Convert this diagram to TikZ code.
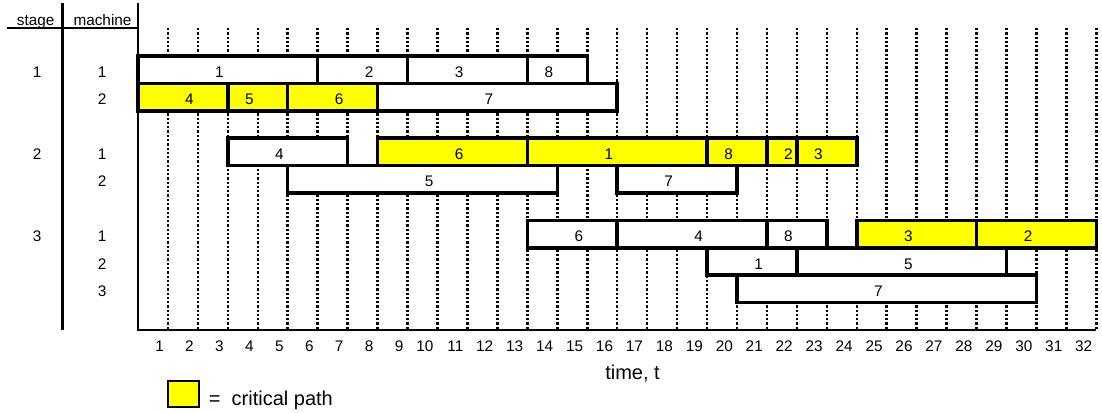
\documentclass[tikz,border=0pt]{standalone}
\usepackage{fontspec}
\setmainfont{Liberation Sans}
\usepackage{xcolor}
\usetikzlibrary{positioning}
\definecolor{pathyellow}{RGB}{255,255,0}
\newcommand{\chartfont}{\fontsize{11.5}{13}\selectfont}
\newcommand{\keyfont}{\fontsize{15}{18}\selectfont}

\begin{document}
\begin{tikzpicture}[
    x=22.4625pt, y=-20.55pt,
    axis/.style={line width=1.7pt},
    gridline/.style={line width=1.9pt, dash pattern=on 1.7pt off 1.5pt},
    bar/.style={draw, line width=2.6pt},
    txt/.style={inner sep=0pt, anchor=base, font=\chartfont},
    num/.style={inner sep=0pt, anchor=base east, font=\chartfont},
    big/.style={inner sep=0pt, font=\keyfont}
]
    \useasboundingbox (-4.6077,-2.0438) rectangle (32.187,13.029);

    % Time grid
    \foreach \k in {1,...,32}
        \draw[gridline] (\k,-1.02) -- (\k,10);

    % Axes and table header
    \draw[axis] (0,-1.945) -- (0,10) -- (32,10);
    \draw[axis] (-2.52,-1.945) -- (-2.52,10);
    \draw[axis] (-4.37,-1.014) -- (0,-1.014);
    \node[txt] (stagehead) at (-3.416,-1.095) {stage};
    \node[txt] (machhead)  at (-1.185,-1.095) {machine};

    % Stage and machine numbers
    \foreach \r/\s in {0/1, 3/2, 6/3}
        \node[txt] (st\r) at (-3.37,\r+0.78) {\s};
    \foreach \r/\m in {0/1, 1/2, 3/1, 4/2, 6/1, 7/2, 8/3}
        \node[txt] (mc\r) at (-1.2,\r+0.78) {\m};

    % Jobs: row/start/end/job/slot/fill
    \foreach \r/\a/\b/\j/\s/\c in {
        0/0/6/1/3/white, 0/6/9/2/8/white, 0/9/13/3/11/white, 0/13/15/8/14/white,
        1/0/3/4/2/pathyellow, 1/3/5/5/4/pathyellow, 1/5/8/6/7/pathyellow, 1/8/16/7/12/white,
        3/3/7/4/5/white, 3/8/13/6/11/pathyellow, 3/13/19/1/16/pathyellow,
        3/19/21/8/20/pathyellow, 3/21/22/2/22/pathyellow, 3/22/24/3/23/pathyellow,
        4/5/14/5/10/white, 4/16/20/7/18/white,
        6/13/16/6/15/white, 6/16/21/4/19/white, 6/21/23/8/22/white,
        6/24/28/3/26/pathyellow, 6/28/32/2/30/pathyellow,
        7/19/22/1/21/white, 7/22/29/5/26/white,
        8/20/30/7/25/white} {
        \draw[bar, fill=\c] (\a,\r) rectangle (\b,\r+1);
        \node[num] (j\r-\a) at (\s-0.13,\r+0.78) {\j};
    }

    % Time axis
    \foreach \k in {1,...,32}
        \node[num] (t\k) at (\k-0.13,10.79) {\k};
    \node[big, anchor=base] (tlabel) at (16.51,11.79) {time, t};

    % Key
    \node[draw, line width=1.5pt, fill=pathyellow, minimum width=23.6pt,
          minimum height=19.9pt, inner sep=0pt] (key) at (1.525,12.335) {};
    \node[big, anchor=base west] (keytext) at ([xshift=6.2pt, yshift=1.7pt]key.south east) {=\ \ critical path};

\end{tikzpicture}
\end{document}
